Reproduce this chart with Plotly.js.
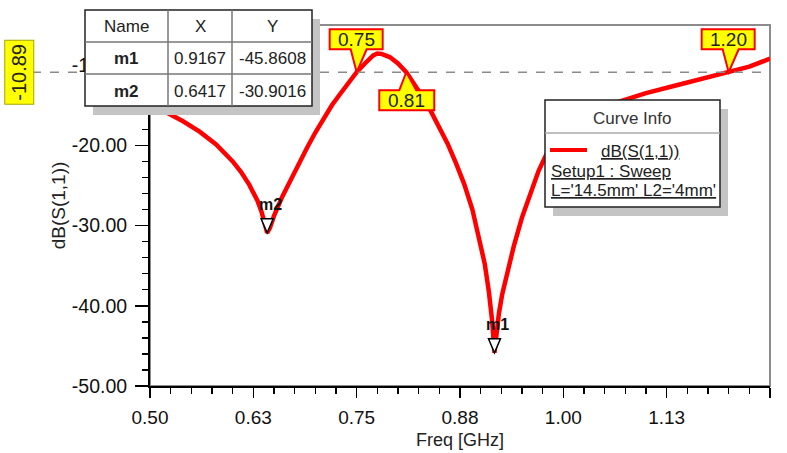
<!DOCTYPE html>
<html>
<head>
<meta charset="utf-8">
<script src="https://cdn.plot.ly/plotly-3.0.1.min.js"></script>
<style>html,body{margin:0;padding:0;background:#fff;}#chart{width:787px;height:453px;}</style>
</head>
<body>
<div id="chart"></div>
<script>
// ---- data ----
const freq = [0.50,0.52,0.54,0.56,0.58,0.60,0.61,0.62,0.63,0.635,0.64,0.6417,0.645,0.65,0.66,0.67,0.68,0.69,0.70,0.71,0.72,0.73,0.74,0.75,0.76,0.77,0.775,0.78,0.79,0.80,0.81,0.82,0.83,0.84,0.85,0.86,0.87,0.88,0.89,0.90,0.905,0.91,0.914,0.9167,0.919,0.922,0.926,0.93,0.94,0.95,0.96,0.97,0.98,0.99,1.00,1.02,1.04,1.06,1.08,1.10,1.13,1.16,1.20,1.225,1.25];
const s11 = [-14.8,-15.9,-17.0,-18.3,-19.9,-22.0,-23.3,-24.9,-26.9,-28.3,-30.2,-30.9,-30.3,-28.8,-26.4,-24.3,-22.3,-20.3,-18.4,-16.6,-15.0,-13.6,-12.2,-10.89,-9.8,-8.8,-8.55,-8.6,-9.0,-9.8,-10.89,-12.4,-14.0,-15.8,-17.7,-19.8,-22.2,-24.8,-28.0,-32.2,-34.8,-38.3,-42.0,-45.86,-43.5,-41.0,-38.6,-36.8,-32.6,-29.0,-25.9,-23.2,-21.0,-19.5,-18.2,-16.7,-15.6,-14.8,-14.1,-13.5,-12.7,-11.9,-10.89,-10.2,-9.2];

const markerNames = ['m1','m2'];
const markerX = [0.9167, 0.6417];
const markerY = [-45.8608, -30.9016];

const lineLevel = -10.89;
const lineLevelLabel = '-10.89';
const crossX = [0.75, 0.81, 1.20];
const crossLabels = ['0.75','0.81','1.20'];
const crossBelow = [false, true, false];

const xTickVals = [0.50,0.625,0.75,0.875,1.00,1.125,1.25];
const xTickText = ['0.50','0.63','0.75','0.88','1.00','1.13','1.25'];
const yTickVals = [-50,-40,-30,-20,-10];
const yTickText = ['-50.00','-40.00','-30.00','-20.00','-10.00'];

const curveName = 'dB(S(1,1))';
const setupText = 'Setup1 : Sweep';
const paramText = "L='14.5mm' L2='4mm'";

// ---- layout helpers (pixel -> paper) ----
const L = 150, R = 17, T = 25, B = 67, W = 787, H = 453;
const PW = W - L - R, PH = H - T - B;
const px = v => (v - L) / PW;
const py = v => (H - B - v) / PH;
const FONT = 'Liberation Sans, Arial, sans-serif';

const shapes = [];
const annotations = [];
function pann(x, y, text, size, opts) {
  annotations.push(Object.assign({xref:'paper', yref:'paper', x:px(x), y:py(y), xanchor:'center', yanchor:'middle',
    text:text, showarrow:false, font:{family:FONT, size:size, color:'#222'}}, opts || {}));
}

// plot frame (gray top/right)
shapes.push({type:'rect', xref:'paper', yref:'paper', x0:0, x1:1, y0:0, y1:1, line:{color:'#8c8c8c', width:2}, layer:'below'});

// dashed level line
shapes.push({type:'line', xref:'paper', yref:'y', x0:px(32), x1:1, y0:lineLevel, y1:lineLevel, line:{color:'#8a8a8a', width:1.5, dash:'dash'}});

// level label
annotations.push({xref:'paper', yref:'y', x:px(19.5), y:lineLevel, xanchor:'center', yanchor:'middle', text:lineLevelLabel, showarrow:false, textangle:-90,
  font:{family:FONT, size:20, color:'#222'}, bgcolor:'#ffff00', bordercolor:'#a6a600', borderwidth:1, borderpad:3});

// crossing markers
const upPath = 'M -27,23 L -6,23 L 0,0 L 10,23 L 26,23 L 26,43 L -27,43 Z';
const downPath = 'M -27,-18 L -7,-18 L 0,0 L 10,-18 L 28,-18 L 28,-38 L -27,-38 Z';
crossX.forEach((x, i) => {
  shapes.push({type:'path', xref:'x', yref:'y', xsizemode:'pixel', ysizemode:'pixel', xanchor:x, yanchor:lineLevel,
    path: crossBelow[i] ? downPath : upPath, fillcolor:'#ffff00', line:{color:'#ff0000', width:2}});
  annotations.push({xref:'x', yref:'y', x:x, y:lineLevel, xanchor:'center', yanchor:'middle', xshift:0, yshift: crossBelow[i] ? -28 : 33,
    text:crossLabels[i], showarrow:false, font:{family:FONT, size:19, color:'#222'}});
});

// m markers
markerNames.forEach((n, i) => {
  shapes.push({type:'path', xref:'x', yref:'y', xsizemode:'pixel', ysizemode:'pixel', xanchor:markerX[i], yanchor:markerY[i],
    path:'M -6,14 L 6,14 L 0,0 Z', fillcolor:'#ffffff', line:{color:'#000', width:1.5}});
  annotations.push({xref:'x', yref:'y', x:markerX[i], y:markerY[i], xanchor:'center', yanchor:'middle', xshift:3, yshift:28,
    text:'<b>'+n+'</b>', showarrow:false, font:{family:FONT, size:16, color:'#111'}});
});

// marker table
const tL = 85, tR = 312, tT = 10, tB = 106;
const cols = [85,168,232,312], rows = [10,42,74,106];
shapes.push({type:'rect', xref:'paper', yref:'paper', x0:px(tL+8), x1:px(tR+8), y0:py(tT+9), y1:py(tB+9), fillcolor:'#c4c4c4', line:{width:0}});
shapes.push({type:'rect', xref:'paper', yref:'paper', x0:px(tL), x1:px(tR), y0:py(tT), y1:py(tB), fillcolor:'#ffffff', line:{color:'#222', width:1.5}});
[cols[1], cols[2]].forEach(c => shapes.push({type:'line', xref:'paper', yref:'paper', x0:px(c), x1:px(c), y0:py(tT), y1:py(tB), line:{color:'#777', width:1.5}}));
[rows[1], rows[2]].forEach(r => shapes.push({type:'line', xref:'paper', yref:'paper', x0:px(tL), x1:px(tR), y0:py(r), y1:py(r), line:{color:'#777', width:1.5}}));
const tableRows = [['Name','X','Y']].concat(markerNames.map((n,i)=>['<b>'+n+'</b>', markerX[i].toFixed(4), markerY[i].toFixed(4)]));
tableRows.forEach((row, ri) => {
  row.forEach((cell, ci) => {
    pann((cols[ci]+cols[ci+1])/2, (rows[ri]+rows[ri+1])/2 + 1, cell, 17);
  });
});

// curve info box
const gL = 545, gR = 720, gT = 100, gB = 207;
shapes.push({type:'rect', xref:'paper', yref:'paper', x0:px(gL+8), x1:px(gR+8), y0:py(gT+9), y1:py(gB+9), fillcolor:'#c4c4c4', line:{width:0}});
shapes.push({type:'rect', xref:'paper', yref:'paper', x0:px(gL), x1:px(gR), y0:py(gT), y1:py(gB), fillcolor:'#ffffff', line:{color:'#222', width:1.5}});
shapes.push({type:'line', xref:'paper', yref:'paper', x0:px(gL), x1:px(gR), y0:py(133), y1:py(133), line:{color:'#aaa', width:1.5}});
shapes.push({type:'line', xref:'paper', yref:'paper', x0:px(550), x1:px(587), y0:py(150), y1:py(150), line:{color:'#ff0000', width:4}});
const u = t => '<span style="text-decoration:underline">'+t+'</span>';
pann(632, 118, 'Curve Info', 17, {font:{family:FONT, size:17, color:'#333'}});
pann(599, 151, u(curveName), 17, {xanchor:'left'});
pann(549, 171, u(setupText), 17, {xanchor:'left'});
pann(549, 190, u(paramText), 17, {xanchor:'left'});

const trace = {x:freq, y:s11, type:'scatter', mode:'lines', line:{color:'#ff0000', width:4.5}, name:curveName, showlegend:false, hoverinfo:'skip'};

const layout = {
  width:W, height:H,
  margin:{l:L, r:R, t:T, b:B, pad:0},
  paper_bgcolor:'#ffffff', plot_bgcolor:'#ffffff',
  showlegend:false,
  font:{family:FONT, color:'#000'},
  xaxis:{range:[0.5,1.25], tickmode:'array', tickvals:xTickVals, ticktext:xTickText, ticks:'outside', ticklen:10, tickwidth:1.5, tickcolor:'#000',
    minor:{tickmode:'linear', tick0:0.5, dtick:0.025, ticks:'outside', ticklen:6, tickwidth:1.5, tickcolor:'#000', showgrid:false},
    showline:true, linecolor:'#000', linewidth:2, showgrid:false, zeroline:false, ticklabelstandoff:3,
    tickfont:{family:FONT, size:19, color:'#111'},
    title:{text:'Freq [GHz]', font:{family:FONT, size:18, color:'#222'}, standoff:7}},
  yaxis:{range:[-50,-5], tickmode:'array', tickvals:yTickVals, ticktext:yTickText, ticks:'outside', ticklen:13, tickwidth:1.5, tickcolor:'#000',
    minor:{tickmode:'linear', tick0:-50, dtick:2, ticks:'outside', ticklen:6, tickwidth:1.5, tickcolor:'#000', showgrid:false},
    showline:true, linecolor:'#000', linewidth:2, showgrid:false, zeroline:false, ticklabelstandoff:4,
    tickfont:{family:FONT, size:19.5, color:'#111'},
    title:{text:'dB(S(1,1))', font:{family:FONT, size:19, color:'#222'}, standoff:1}},
  shapes:shapes,
  annotations:annotations
};

Plotly.newPlot('chart', [trace], layout, {staticPlot:true, displayModeBar:false});
</script>
</body>
</html>
